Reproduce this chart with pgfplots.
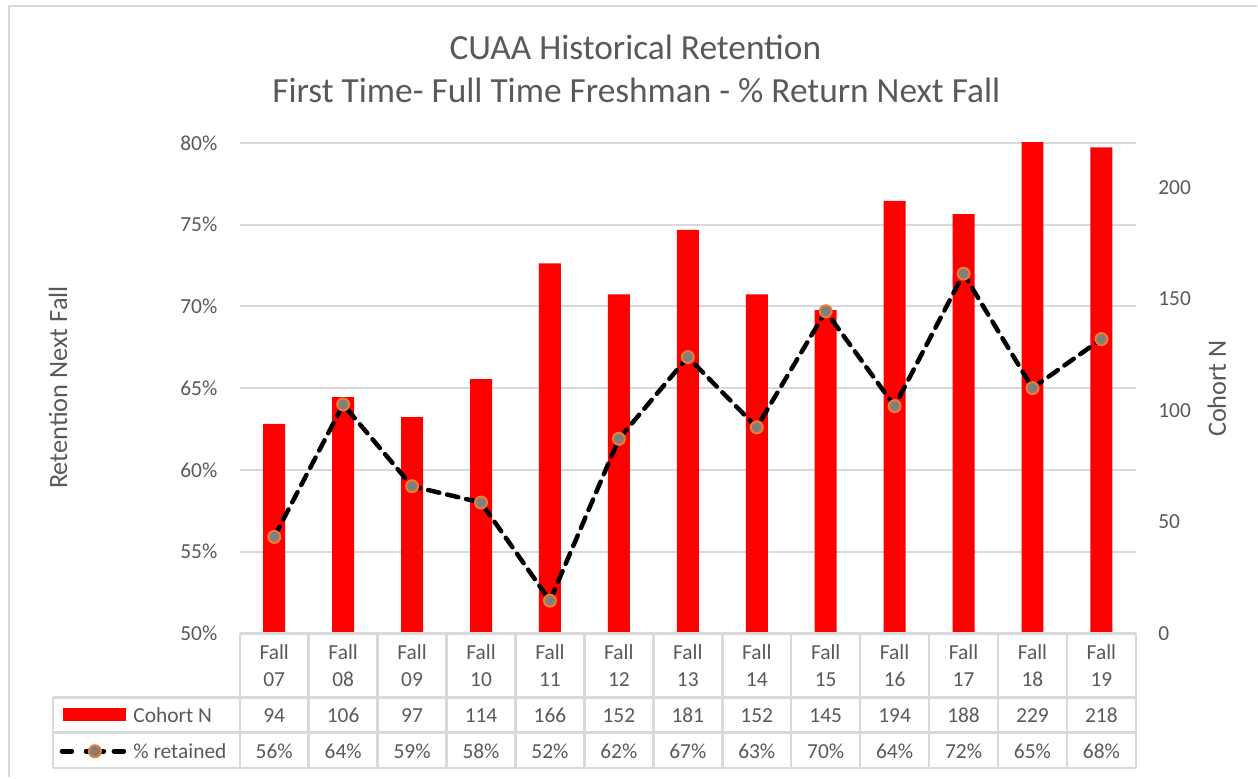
\documentclass[border=0pt]{standalone}
\usepackage{pgfplots}
\usepackage{pgfplotstable}
\pgfplotsset{compat=1.18}
\usepackage{fontspec}
\setmainfont{Carlito}
\definecolor{txt}{HTML}{595959}
\definecolor{grd}{HTML}{D9D9D9}
\definecolor{barred}{HTML}{FF0000}
\definecolor{mkfill}{HTML}{7F7F7F}
\definecolor{mkedge}{HTML}{ED7D31}

\pgfplotstableread{
idx cohort ret
0  94  55.9
1  106 64.0
2  97  59.0
3  114 58.0
4  166 52.0
5  152 61.9
6  181 66.9
7  152 62.6
8  145 69.7
9  194 63.9
10 188 72.0
11 229 65.0
12 218 68.0
}\data

\newcommand{\tfont}{\fontsize{8.6}{10}\selectfont}

\begin{document}
\begin{tikzpicture}
\begin{scope}[x=0.4bp,y=-0.4bp]
\path (0,0) rectangle (1258,778);
\draw[grd, line width=1bp] (9,778) -- (9,6) -- (1258,6);
\end{scope}

\pgfplotsset{
  base/.style={
    at={(96bp,-253.6bp)}, anchor=south west,
    scale only axis, width=358.8bp, height=196.4bp,
    xmin=-0.5, xmax=12.5,
    axis line style={draw=none}, major tick length=0pt,
    hide x axis,
    /pgf/number format/assume math mode=true,
  }
}

% grid + left axis
\begin{axis}[base,
  ymin=50, ymax=80, ytick={50,55,...,80},
  axis y line*=left,
  ymajorgrids, grid style={grd, line width=0.8bp},
  yticklabel={\pgfmathprintnumber{\tick}\%},
  yticklabel style={font=\tfont, text=txt, anchor=east, inner sep=0pt, xshift=-8.8bp},
]
\addplot[draw=none] coordinates {(0,60)};
\end{axis}

% bars + right axis
\begin{axis}[base,
  ymin=0, ymax=220, ytick={0,50,...,200},
  axis y line*=right,
  yticklabel style={font=\tfont, text=txt, anchor=west, inner sep=0pt, xshift=8.8bp},
]
\addplot[ybar, bar width=8.8bp, fill=barred, draw=none] table[x=idx,y=cohort]{\data};
\end{axis}

% line
\begin{axis}[base,
  ymin=50, ymax=80, hide y axis,
]
\addplot[black, line width=1.8bp, dash pattern=on 4.6bp off 3.2bp, line cap=round,
  mark=*, mark size=2.4bp, mark options={solid, fill=mkfill, draw=mkedge, line width=0.8bp}]
  table[x=idx,y=ret]{\data};
\end{axis}

\begin{scope}[x=0.4bp,y=-0.4bp]
% titles
\node[font=\fontsize{14.2}{17}\selectfont, text=txt] at (636,47) {CUAA Historical Retention};
\node[font=\fontsize{14.2}{17}\selectfont, text=txt] at (637,90) {First Time- Full Time Freshman - \% Return Next Fall};
\node[font=\fontsize{10.6}{12}\selectfont, text=txt, rotate=90] at (58,388) {Retention Next Fall};
\node[font=\fontsize{10.6}{12}\selectfont, text=txt, rotate=90] at (1218,389) {Cohort N};

% data table grid
\draw[grd, line width=1bp] (240,634) -- (1137,634);
\draw[grd, line width=1bp] (53,698) -- (1137,698);
\draw[grd, line width=1bp] (53,733) -- (1137,733);
\draw[grd, line width=1bp] (53,769) -- (1137,769);
\draw[grd, line width=1bp] (53,698) -- (53,769);
\foreach \i in {0,...,13} {
  \draw[grd, line width=1bp] ({240+69*\i},634) -- ({240+69*\i},769);
}
% category labels
\foreach \c [count=\i from 0] in {07,08,09,10,11,12,13,14,15,16,17,18,19} {
  \node[font=\tfont, text=txt] at ({274.5+69*\i},653) {Fall};
  \node[font=\tfont, text=txt] at ({274.5+69*\i},680) {\c};
}
\foreach \v [count=\i from 0] in {94,106,97,114,166,152,181,152,145,194,188,229,218} {
  \node[font=\tfont, text=txt] at ({274.5+69*\i},716) {\v};
}
\foreach \v [count=\i from 0] in {56,64,59,58,52,62,67,63,70,64,72,65,68} {
  \node[font=\tfont, text=txt] at ({274.5+69*\i},752) {\v\%};
}
% legend keys
\fill[barred] (63,709) rectangle (126,722);
\node[font=\tfont, text=txt, anchor=west, inner sep=0pt] at (133,716) {Cohort N};
\draw[black, line width=1.8bp, line cap=round] (62,752) -- (72,752);
\draw[black, line width=1.8bp, line cap=round] (86,752) -- (104,752);
\draw[black, line width=1.8bp, line cap=round] (114,752) -- (124,752);
\filldraw[fill=mkfill, draw=mkedge, line width=0.8bp] (95,752) circle (2.4bp);
\node[font=\tfont, text=txt, anchor=west, inner sep=0pt] at (133,752) {\% retained};
\end{scope}
\end{tikzpicture}
\end{document}
